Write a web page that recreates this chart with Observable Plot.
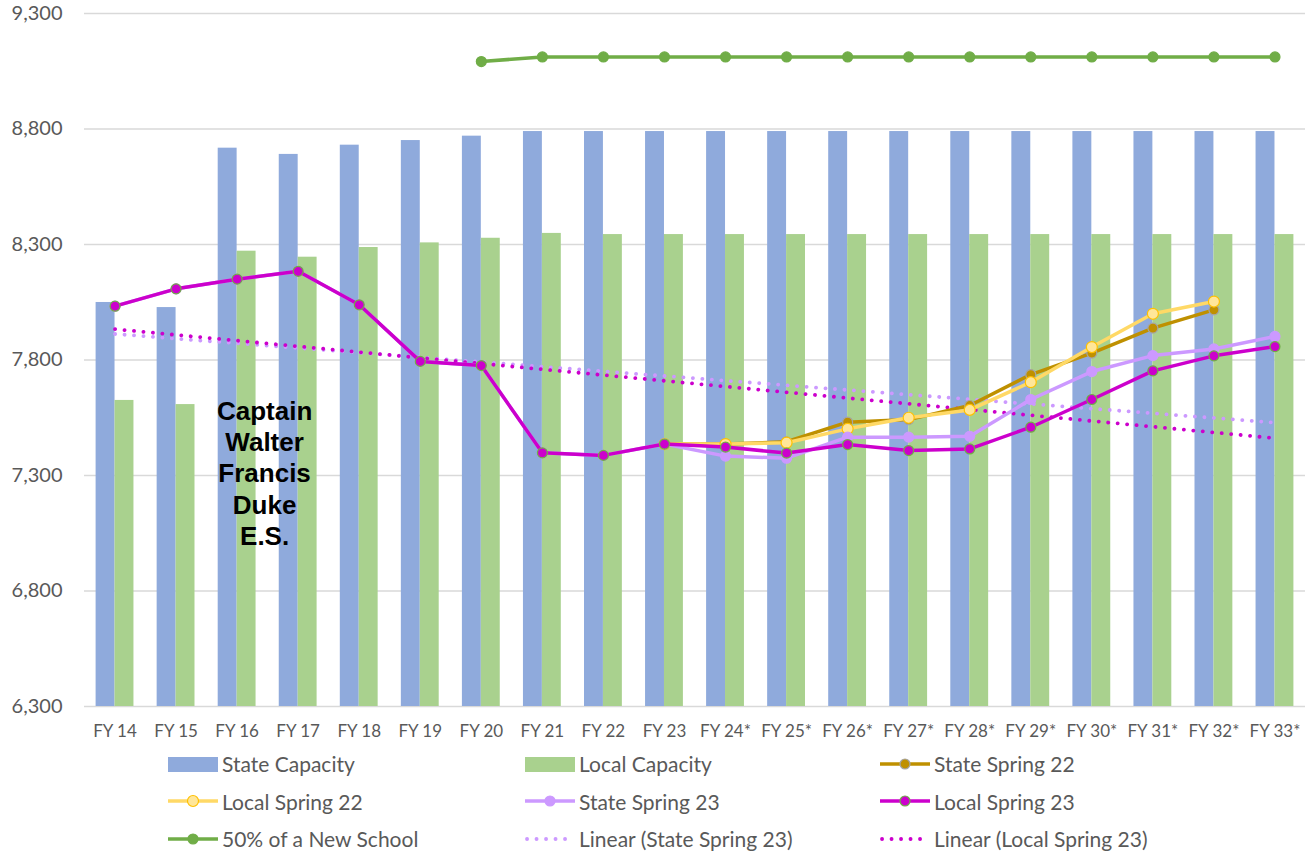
<!DOCTYPE html>
<html>
<head>
<meta charset="utf-8">
<script src="https://cdn.jsdelivr.net/npm/d3@7"></script>
<script src="https://cdn.jsdelivr.net/npm/@observablehq/plot@0.6"></script>
<style>
  html, body { margin: 0; padding: 0; background: #fff; }
  body { width: 1313px; height: 853px; overflow: hidden; font-family: Lato, "Open Sans", sans-serif; }
  #chart svg { display: block; }
  #legend { display: grid; grid-template-columns: 357px 355px 420px; margin-left: 168px; }
  .item { height: 37.5px; display: flex; align-items: center; color: #595959; font-size: 21px; white-space: nowrap; }
  .item svg { flex: none; margin-right: 4px; }
</style>
</head>
<body>
<div id="chart"></div>
<div id="legend"></div>
<script>
// ---- data ----
const years = ["FY 14","FY 15","FY 16","FY 17","FY 18","FY 19","FY 20","FY 21","FY 22","FY 23",
  "FY 24*","FY 25*","FY 26*","FY 27*","FY 28*","FY 29*","FY 30*","FY 31*","FY 32*","FY 33*"];
const yTicks = [6300, 6800, 7300, 7800, 8300, 8800, 9300];

const stateCapacity = [8049, 8027, 8717, 8690, 8730, 8750, 8769, 8789, 8789, 8789,
  8789, 8789, 8789, 8789, 8789, 8789, 8789, 8789, 8789, 8789];
const localCapacity = [7625, 7607, 8271, 8245, 8287, 8307, 8327, 8348, 8343, 8343,
  8343, 8343, 8343, 8343, 8343, 8343, 8343, 8343, 8343, 8343];
const stateSpring22 = [null, null, null, null, null, null, null, null, null, 7436,
  7436, 7446, 7531, 7542, 7603, 7737, 7830, 7938, 8017, null];
const localSpring22 = [null, null, null, null, null, null, null, null, null, 7436,
  7436, 7442, 7502, 7550, 7584, 7704, 7856, 8000, 8053, null];
const stateSpring23 = [8033, 8108, 8150, 8184, 8039, 7794, 7776, 7398, 7387, 7436,
  7384, 7375, 7466, 7466, 7470, 7629, 7750, 7819, 7848, 7902];
const localSpring23 = [8033, 8108, 8150, 8184, 8039, 7794, 7776, 7398, 7387, 7436,
  7423, 7397, 7434, 7408, 7415, 7509, 7629, 7753, 7818, 7858];
const newSchool50 = [null, null, null, null, null, null, 9092, 9112, 9112, 9112,
  9112, 9112, 9112, 9112, 9112, 9112, 9112, 9112, 9112, 9112];

const annotationText = "Captain\nWalter\nFrancis\nDuke\nE.S.";
const annotationAt = {i: 3.45, v: 7313};

// ---- build ----
const rows = arr => arr.map((v, k) => ({i: k + 1, v})).filter(d => d.v != null);
const idx = years.map((_, k) => k + 1);
const BW = 0.31;

const lineSeries = [
  {name: "50% of a New School", data: newSchool50, color: "#70ad47", mFill: "#70ad47", mStroke: "#70ad47", r: 5},
  {name: "State Spring 22", data: stateSpring22, color: "#bf9000", mFill: "#bf9000", mStroke: "#a5a5a5", r: 5},
  {name: "Local Spring 22", data: localSpring22, color: "#ffd966", mFill: "#ffe699", mStroke: "#ffc000", r: 5.5},
  {name: "State Spring 23", data: stateSpring23, color: "#cc99ff", mFill: "#cc99ff", mStroke: "#cc99ff", r: 5},
  {name: "Local Spring 23", data: localSpring23, color: "#cc00cc", mFill: "#cc00cc", mStroke: "#70ad47", r: 5}
];
const trendSeries = [
  {name: "Linear (State Spring 23)", data: stateSpring23, color: "#cc99ff"},
  {name: "Linear (Local Spring 23)", data: localSpring23, color: "#cc00cc"}
];
const DOTS = "0.1 9.4";

const marks = [
  Plot.ruleY(yTicks, {stroke: "#d9d9d9", strokeWidth: 1.5}),
  Plot.rect(rows(stateCapacity), {x1: d => d.i - BW, x2: d => d.i, y1: yTicks[0], y2: "v", fill: "#8faadc"}),
  Plot.rect(rows(localCapacity), {x1: d => d.i, x2: d => d.i + BW, y1: yTicks[0], y2: "v", fill: "#a9d18e"}),
  ...trendSeries.map(s => Plot.linearRegressionY(rows(s.data), {
    x: "i", y: "v", ci: 0, stroke: s.color, strokeWidth: 3.8,
    strokeDasharray: DOTS, strokeLinecap: "round"
  })),
];
for (const s of lineSeries) {
  marks.push(Plot.line(rows(s.data), {x: "i", y: "v", stroke: s.color, strokeWidth: 3.5, strokeLinejoin: "round"}));
  marks.push(Plot.dot(rows(s.data), {x: "i", y: "v", r: s.r, fill: s.mFill, stroke: s.mStroke, strokeWidth: 1.2}));
}
marks.push(
  Plot.text([annotationAt], {x: "i", y: "v", text: () => annotationText, fontSize: 26, fontWeight: "bold",
    fontFamily: "Liberation Sans, Arial, sans-serif", lineHeight: 1.2, fill: "#000"}),
  Plot.axisY({ticks: yTicks, tickFormat: d3.format(","), tickSize: 0, tickPadding: 22, fontSize: 20, label: null}),
  Plot.axisX({ticks: idx, tickFormat: i => years[i - 1], tickSize: 0, tickPadding: 18, fontSize: 17, label: null})
);

const chart = Plot.plot({
  width: 1313,
  height: 745,
  marginLeft: 84,
  marginRight: 8,
  marginTop: 13,
  marginBottom: 39,
  x: {type: "linear", domain: [0.5, years.length + 0.5], label: null},
  y: {domain: [yTicks[0], yTicks[yTicks.length - 1]], label: null},
  style: {fontFamily: "Lato, 'Open Sans', sans-serif", color: "#595959", background: "#fff"},
  marks
});
document.getElementById("chart").appendChild(chart);

// ---- legend ----
const legendOrder = [
  {name: "State Capacity", kind: "bar", color: "#8faadc"},
  {name: "Local Capacity", kind: "bar", color: "#a9d18e"},
  lineSeries[1], lineSeries[2], lineSeries[3], lineSeries[4], lineSeries[0],
  {...trendSeries[0], kind: "trend"}, {...trendSeries[1], kind: "trend"}
];
const legend = document.getElementById("legend");
const NS = "http://www.w3.org/2000/svg";
for (const it of legendOrder) {
  const div = document.createElement("div");
  div.className = "item";
  const svg = document.createElementNS(NS, "svg");
  svg.setAttribute("width", 50); svg.setAttribute("height", 20);
  if (it.kind === "bar") {
    svg.innerHTML = `<rect x="0" y="3" width="50" height="15" fill="${it.color}"/>`;
  } else if (it.kind === "trend") {
    svg.innerHTML = `<line x1="2" x2="48" y1="10" y2="10" stroke="${it.color}" stroke-width="3.8" stroke-linecap="round" stroke-dasharray="${DOTS}"/>`;
  } else {
    svg.innerHTML = `<line x1="0" x2="50" y1="10" y2="10" stroke="${it.color}" stroke-width="3.5"/>` +
      `<circle cx="25" cy="10" r="${it.r}" fill="${it.mFill}" stroke="${it.mStroke}" stroke-width="1.2"/>`;
  }
  div.appendChild(svg);
  const span = document.createElement("span");
  span.textContent = it.name;
  div.appendChild(span);
  legend.appendChild(div);
}
</script>
</body>
</html>
